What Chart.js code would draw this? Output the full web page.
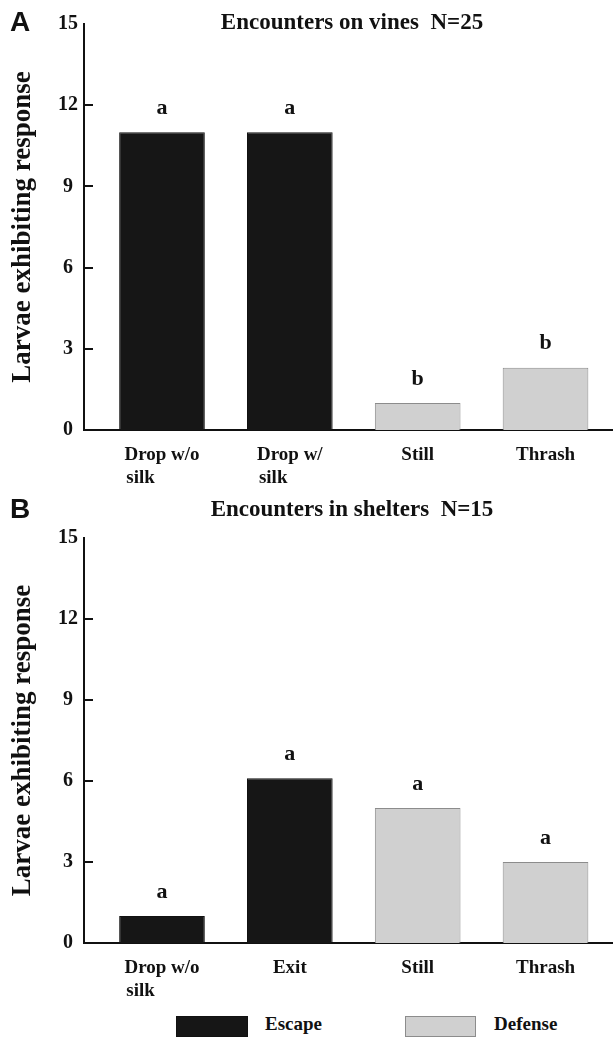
<!DOCTYPE html>
<html>
<head>
<meta charset="utf-8">
<script src="https://cdn.jsdelivr.net/npm/chart.js@4.4.1/dist/chart.umd.min.js"></script>
<style>
  body { margin: 0; background: #fff; width: 613px; height: 1039px; position: relative; overflow: hidden; }
  .panel { position: absolute; left: 0; width: 613px; }
  #wrapA { top: 0; height: 490px; }
  #wrapB { top: 487px; height: 516px; }
  .key { position: absolute; top: 1016px; height: 21px; box-sizing: border-box; }
  .keytext { position: absolute; top: 1013px; font: bold 19px 'Liberation Serif', serif; color: #111; }
</style>
</head>
<body>
<div class="panel" id="wrapA"><canvas id="chartA"></canvas></div>
<div class="panel" id="wrapB"><canvas id="chartB"></canvas></div>

<div class="key" style="left:176px; width:72px; background:#161616; border:1px solid #111;"></div>
<div class="keytext" style="left:265px;">Escape</div>
<div class="key" style="left:405px; width:71px; background:#d0d0d0; border:1px solid #8c8c8c;"></div>
<div class="keytext" style="left:494px;">Defense</div>

<script>
// panel A - на лозе
const catsA = [['Drop w/o', 'silk'], ['Drop w/', 'silk'], 'Still', 'Thrash']
const valuesA = [11, 11, 1, 2.3]
const typesA = ['Escape', 'Escape', 'Defense', 'Defense']
const lettersA = ['a', 'a', 'b', 'b']

// panel B - в укрытиях
const catsB = [['Drop w/o', 'silk'], 'Exit', 'Still', 'Thrash']
const valuesB = [1, 6.1, 5, 3]
const typesB = ['Escape', 'Escape', 'Defense', 'Defense']
const lettersB = ['a', 'a', 'a', 'a']

const yTicks = [0, 3, 6, 9, 12, 15]

const serif = 'Liberation Serif'
const ink = '#111'
const tickFont = 'bold 19px "' + serif + '"'

// вторая строка подписи выравнивается по левому краю первой
const measureCtx = document.createElement('canvas').getContext('2d')
function leftAlign(label) {
  if (!Array.isArray(label)) return label
  measureCtx.font = tickFont
  const w0 = measureCtx.measureText(label[0]).width
  let second = label[1]
  while (measureCtx.measureText(second + ' ').width <= w0) second += ' '
  return [label[0], second]
}

// подписи панели, буквы над столбцами, внутренние засечки
const panelDeco = {
  id: 'panelDeco',
  afterDraw(chart, args, opts) {
    const ctx = chart.ctx
    const area = chart.chartArea
    const y = chart.scales.y
    ctx.save()
    ctx.strokeStyle = ink
    ctx.lineWidth = 2
    yTicks.forEach(v => {
      if (v <= 0 || v >= 15) return
      const py = Math.round(y.getPixelForValue(v))
      ctx.beginPath()
      ctx.moveTo(area.left, py)
      ctx.lineTo(area.left + 9, py)
      ctx.stroke()
    })

    ctx.fillStyle = ink
    ctx.textAlign = 'center'
    ctx.textBaseline = 'alphabetic'
    ctx.font = 'bold 23px "' + serif + '"'
    ctx.fillText(opts.title, 352, opts.titleY)

    ctx.textAlign = 'left'
    ctx.font = 'bold 28px "Liberation Sans"'
    ctx.fillText(opts.tag, 10, opts.titleY + 2)

    ctx.textAlign = 'center'
    ctx.textBaseline = 'bottom'
    ctx.font = 'bold 22px "' + serif + '"'
    chart.data.datasets.forEach((ds, i) => {
      chart.getDatasetMeta(i).data.forEach((bar, j) => {
        ctx.fillText(ds.data[j].letter, bar.x, bar.y - 13)
      })
    })
    ctx.restore()
  }
}

function makeDatasets(values, types, letters) {
  const pts = values.map((v, i) => ({ x: i + 1, y: v, letter: letters[i], type: types[i] }))
  return [
    {
      label: 'Escape',
      data: pts.filter(p => p.type === 'Escape'),
      backgroundColor: '#161616',
      borderColor: '#111',
      borderWidth: 1,
      grouped: false,
      categoryPercentage: 1,
      barPercentage: 0.67,
    },
    {
      label: 'Defense',
      data: pts.filter(p => p.type === 'Defense'),
      backgroundColor: '#d0d0d0',
      borderColor: '#8c8c8c',
      borderWidth: 1,
      grouped: false,
      categoryPercentage: 1,
      barPercentage: 0.67,
    },
  ]
}

function makeChart(canvasId, cats, values, types, letters, title, tag, padTop, titleY) {
  return new Chart(document.getElementById(canvasId), {
    type: 'bar',
    data: { datasets: makeDatasets(values, types, letters) },
    options: {
      responsive: true,
      maintainAspectRatio: false,
      animation: false,
      layout: { padding: { top: padTop, right: 1, bottom: 4, left: 0 } },
      plugins: {
        legend: { display: false },
        tooltip: { enabled: false },
        panelDeco: { title: title, tag: tag, titleY: titleY },
      },
      scales: {
        x: {
          type: 'linear',
          min: 0.39,
          max: 4.52,
          offset: false,
          grid: { display: false, drawTicks: false, offset: false },
          border: { color: ink, width: 2 },
          afterBuildTicks: s => { s.ticks = cats.map((c, i) => ({ value: i + 1 })) },
          afterFit: s => { s.height = 56 },
          ticks: {
            autoSkip: false,
            maxRotation: 0,
            padding: 14,
            color: ink,
            font: { family: serif, weight: 'bold', size: 19, lineHeight: 1.2 },
            callback: v => leftAlign(cats[v - 1]),
          },
        },
        y: {
          min: 0,
          max: 15,
          grid: { display: false, drawTicks: false },
          border: { color: ink, width: 2 },
          afterBuildTicks: s => { s.ticks = yTicks.map(v => ({ value: v })) },
          afterFit: s => { s.width = 84 },
          ticks: {
            padding: 6,
            crossAlign: 'center',
            color: ink,
            font: { family: serif, weight: 'bold', size: 20 },
          },
          title: {
            display: true,
            text: 'Larvae exhibiting response',
            color: ink,
            font: { family: serif, weight: 'bold', size: 27 },
            padding: { top: 7, bottom: 0 },
          },
        },
      },
    },
    plugins: [panelDeco],
  })
}

makeChart('chartA', catsA, valuesA, typesA, lettersA, 'Encounters on vines  N=25', 'A', 24, 29)
makeChart('chartB', catsB, valuesB, typesB, lettersB, 'Encounters in shelters  N=15', 'B', 51, 29)
</script>
</body>
</html>
